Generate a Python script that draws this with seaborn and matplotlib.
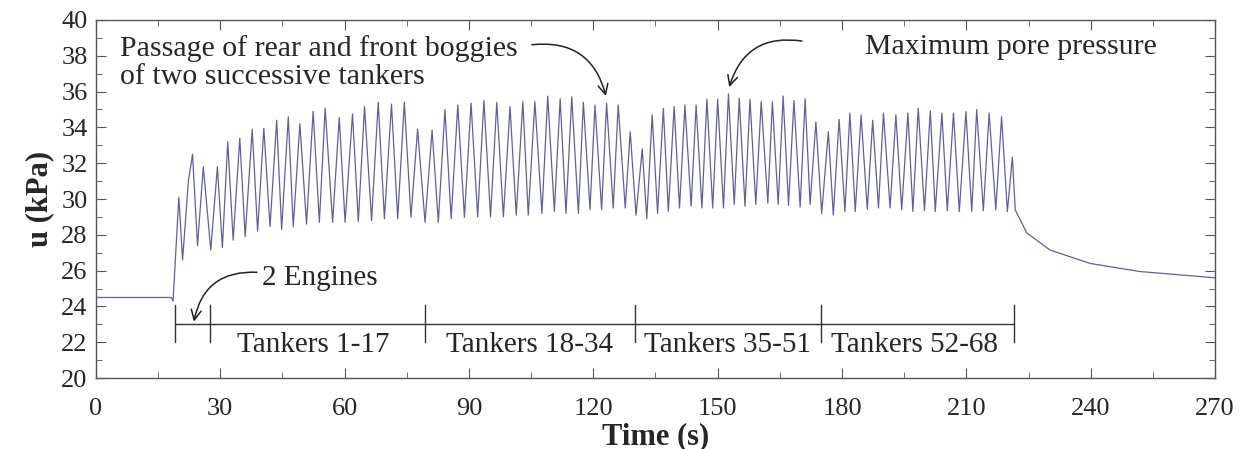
import numpy as np
import pandas as pd
import seaborn as sns
import matplotlib
matplotlib.use("Agg")
import matplotlib.pyplot as plt
from matplotlib.ticker import MultipleLocator

# pore pressure record (peaks and troughs)
time_s = [0, 18.2, 18.6, 20.0, 20.9, 22.3, 23.3, 24.5, 25.9, 27.7, 29.3, 30.5, 31.8, 33.1,
          34.7, 36.0, 37.7, 39.0, 40.5, 42.0, 43.6, 44.8, 46.4, 47.6, 49.2, 50.8, 52.4, 53.9,
          55.3, 57.1, 58.7, 60.1, 61.9, 63.3, 64.8, 66.5, 68.1, 69.6, 71.3, 72.8, 74.4, 76.0,
          77.6, 79.4, 81.1, 82.6, 84.2, 85.7, 87.3, 88.9, 90.5, 92.1, 93.6, 95.2, 96.7, 98.3,
          99.9, 101.4, 103.0, 104.3, 105.9, 107.6, 109.0, 110.6, 112.0, 113.4, 114.8, 116.4,
          117.6, 119.2, 120.4, 122.0, 123.2, 124.8, 126.0, 127.7, 128.9, 130.3, 131.8, 132.9,
          134.2, 135.5, 136.9, 138.1, 139.5, 140.8, 142.1, 143.6, 144.8, 146.2, 147.4, 148.8,
          150.0, 151.4, 152.6, 154.0, 155.2, 156.6, 157.8, 159.2, 160.5, 162.1, 163.2, 164.6,
          165.8, 167.1, 168.4, 169.9, 171.1, 172.3, 173.7, 175.1, 176.7, 177.9, 179.3, 180.7,
          181.9, 183.2, 184.6, 186.1, 187.4, 188.8, 190.0, 191.6, 193.0, 194.4, 195.9, 197.1,
          198.4, 199.9, 201.3, 202.5, 204.1, 205.4, 206.9, 208.3, 209.9, 211.3, 212.5, 214.1,
          215.5, 217.1, 218.5, 219.9, 221.1, 221.8, 222.2, 224.6, 230.2, 239.9, 251.9, 270.0]
u_kpa = [24.5, 24.5, 24.3, 30.1, 26.6, 31.0, 32.5, 27.4, 31.8, 27.15, 31.8, 27.3, 33.2, 27.7,
         33.4, 27.9, 33.9, 28.2, 33.95, 28.45, 34.4, 28.3, 34.6, 28.45, 34.2, 28.6, 34.9, 28.7,
         35.07, 28.7, 34.55, 28.7, 34.75, 28.75, 35.16, 28.8, 35.4, 28.9, 35.3, 28.9, 35.4, 28.98,
         33.9, 28.7, 33.85, 28.7, 35.0, 28.9, 35.25, 28.98, 35.35, 29.0, 35.5, 29.0, 35.4, 29.0,
         35.16, 29.1, 35.44, 29.1, 35.44, 29.2, 35.75, 29.3, 35.6, 29.2, 35.7, 29.2,
         35.4, 29.4, 35.25, 29.4, 35.35, 29.5, 35.25, 29.5, 33.76, 29.1, 32.8, 28.9,
         34.7, 29.2, 35.07, 29.3, 35.16, 29.5, 35.25, 29.6, 35.25, 29.5, 35.57, 29.5,
         35.57, 29.5, 35.87, 29.7, 35.63, 29.6, 35.57, 29.7, 35.44, 29.76, 35.44, 29.7,
         35.75, 29.65, 35.5, 29.55, 35.6, 29.7, 34.3, 29.2, 33.76, 29.1, 34.45, 29.3,
         34.8, 29.3, 34.7, 29.42, 34.4, 29.5, 34.8, 29.5, 34.7, 29.4, 34.8, 29.3,
         35.07, 29.35, 34.93, 29.3, 34.8, 29.35, 34.8, 29.3, 34.88, 29.3, 35.0, 29.35,
         34.8, 29.4, 34.6, 29.3, 32.33, 29.4, 29.2, 28.1, 27.15, 26.4, 25.95, 25.6]

# bracket marks under the record
bracket_edges = [19.0, 27.5, 79.5, 130.0, 175.0, 221.5]
group_labels = ["Tankers 1-17", "Tankers 18-34", "Tankers 35-51", "Tankers 52-68"]
group_centres = [52.5, 104.5, 152.5, 197.5]

df = pd.DataFrame({"Time (s)": time_s, "u (kPa)": u_kpa})

sns.set_style("ticks")
plt.rcParams["font.family"] = ["Liberation Serif", "DejaVu Serif"]
plt.rcParams["xtick.direction"] = "in"
plt.rcParams["ytick.direction"] = "in"

fig = plt.figure(figsize=(12.43, 4.49), dpi=100)
ax = fig.add_axes([0.0772, 0.158, 0.9003, 0.7975])

sns.lineplot(data=df, x="Time (s)", y="u (kPa)", ax=ax, color="#5f5fa5",
             linewidth=0.9, estimator=None, sort=False)

ax.set_xlim(0, 270)
ax.set_ylim(20, 40)
ax.xaxis.set_major_locator(MultipleLocator(30))
ax.xaxis.set_minor_locator(MultipleLocator(15))
ax.yaxis.set_major_locator(MultipleLocator(2))
ax.yaxis.set_minor_locator(MultipleLocator(1))
ax.tick_params(which="both", top=True, right=True, color="#555555")
ax.tick_params(which="major", length=7, labelsize=19)
ax.tick_params(axis="x", which="major", pad=14)
ax.tick_params(axis="y", which="major", pad=6)
ax.tick_params(which="minor", length=4)
for s in ax.spines.values():
    s.set_color("#555555")
    s.set_linewidth(1.0)

ax.set_xlabel("Time (s)", fontsize=22, fontweight="bold", labelpad=2)
ax.set_ylabel("u (kPa)", fontsize=22, fontweight="bold", labelpad=5)

# brackets and group labels
ax.plot([bracket_edges[0], bracket_edges[-1]], [23, 23], color="#333333", lw=1.0)
for e in bracket_edges:
    ax.plot([e, e], [22.0, 24.1], color="#333333", lw=1.0)
for lab, c in zip(group_labels, group_centres):
    ax.text(c, 21.85, lab, ha="center", va="center", fontsize=21)

# annotations
ax.text(40, 25.6, "2 Engines", ha="left", va="center", fontsize=21)
ax.annotate("", xy=(23.5, 23.0), xytext=(39.5, 25.9),
            arrowprops=dict(arrowstyle="->", color="#222222", lw=1.1,
                            connectionstyle="arc3,rad=0.45", mutation_scale=18))
ax.text(5.8, 37.6, "Passage of rear and front boggies\nof two successive tankers",
        ha="left", va="center", fontsize=21.5, linespacing=1.1)
ax.annotate("", xy=(123.2, 35.6), xytext=(104.5, 38.6),
            arrowprops=dict(arrowstyle="->", color="#222222", lw=1.1,
                            connectionstyle="arc3,rad=-0.45", mutation_scale=18))
ax.text(185.5, 38.5, "Maximum pore pressure", ha="left", va="center", fontsize=21.5)
ax.annotate("", xy=(152.6, 36.1), xytext=(171.0, 38.8),
            arrowprops=dict(arrowstyle="->", color="#222222", lw=1.1,
                            connectionstyle="arc3,rad=0.45", mutation_scale=18))

fig.savefig("out.png", dpi=100)
